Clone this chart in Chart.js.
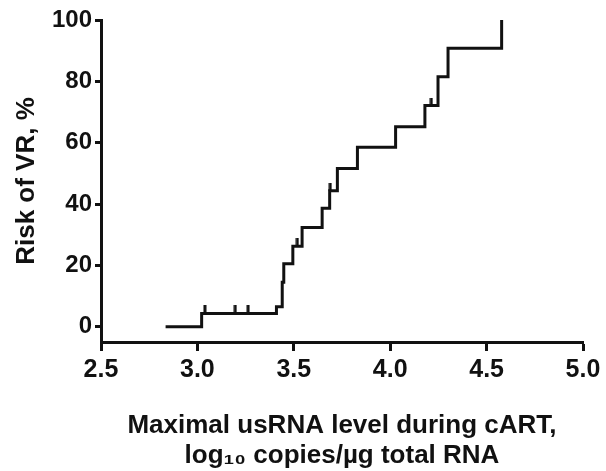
<!DOCTYPE html>
<html><head><meta charset="utf-8">
<script src="https://cdn.jsdelivr.net/npm/chart.js@4.4.1/dist/chart.umd.min.js"></script>
<style>html,body{margin:0;padding:0;background:#fff}canvas{display:block}</style>
</head><body>
<canvas id="c" width="606" height="471"></canvas>
<script>
// Kaplan-Meier style cumulative risk curve (x = log10 copies, y = %)
const stepX = [2.835, 3.022, 3.41, 3.44, 3.448, 3.495, 3.543, 3.647, 3.686, 3.726, 3.83, 4.028, 4.18, 4.248, 4.30, 4.578];
const stepY = [0, 4.3, 6.5, 14.5, 20.5, 26.2, 32.3, 38.6, 44.3, 51.6, 58.5, 65.2, 72.1, 81.5, 90.8, 100];
// censored observations
const censorX = [3.039, 3.196, 3.263, 3.518, 3.689, 4.213];
const censorY = [4.3, 4.3, 4.3, 26.2, 44.3, 72.1];
// axis ticks
const xTicks = [2.5, 3.0, 3.5, 4.0, 4.5, 5.0];
const yTicks = [0, 20, 40, 60, 80, 100];

const ink = '#111111';
const fam = "'Liberation Sans', Arial, Helvetica, sans-serif";

// upward censor tick mark as point style
const tickImg = document.createElement('canvas');
tickImg.width = 4; tickImg.height = 16;
const tc = tickImg.getContext('2d');
tc.fillStyle = ink;
tc.fillRect(0.5, 0, 3, 8);

new Chart(document.getElementById('c'), {
  type: 'scatter',
  data: {
    datasets: [
      {
        data: stepX.map((x, i) => ({x: x, y: stepY[i]})),
        showLine: true,
        stepped: true,
        borderColor: ink,
        borderWidth: 3,
        pointRadius: 0,
        fill: false
      },
      {
        data: censorX.map((x, i) => ({x: x, y: censorY[i]})),
        showLine: false,
        pointStyle: tickImg,
        pointRadius: 8
      }
    ]
  },
  options: {
    responsive: false,
    animation: false,
    layout: {padding: {top: 20, right: 23, left: 0, bottom: 0}},
    plugins: {legend: {display: false}, tooltip: {enabled: false}},
    scales: {
      x: {
        type: 'linear', min: 2.5, max: 5.0,
        afterBuildTicks: s => { s.ticks = xTicks.map(v => ({value: v})); },
        afterFit: s => { s.height = 129; },
        border: {display: true, color: ink, width: 3},
        grid: {display: true, drawOnChartArea: false, drawTicks: true, tickLength: 9, tickWidth: 3, tickColor: ink},
        ticks: {color: ink, font: {family: fam, size: 25, weight: 'bold'}, padding: 4, maxRotation: 0, autoSkip: false,
          callback: v => Number(v).toFixed(1)},
        title: {display: true, text: ['Maximal usRNA level during cART,', 'log\u2081\u2080 copies/\u00b5g total RNA'],
          color: ink, font: {family: fam, size: 26, weight: 'bold', lineHeight: 1.15}, padding: {top: 0, bottom: 0}}
      },
      y: {
        type: 'linear', min: -5, max: 100,
        afterBuildTicks: s => { s.ticks = yTicks.map(v => ({value: v})); },
        afterFit: s => { s.width = 101; },
        border: {display: true, color: ink, width: 3},
        grid: {display: true, drawOnChartArea: false, drawTicks: true, tickLength: 6, tickWidth: 3, tickColor: ink},
        ticks: {color: ink, font: {family: fam, size: 24, weight: 'bold'}, padding: 3, autoSkip: false,
          callback: v => String(v)},
        title: {display: true, text: 'Risk of VR, %', color: ink,
          font: {family: fam, size: 26, weight: 'bold', lineHeight: 1.15}, padding: {top: 12, bottom: 0}}
      }
    }
  }
});
</script>
</body></html>
